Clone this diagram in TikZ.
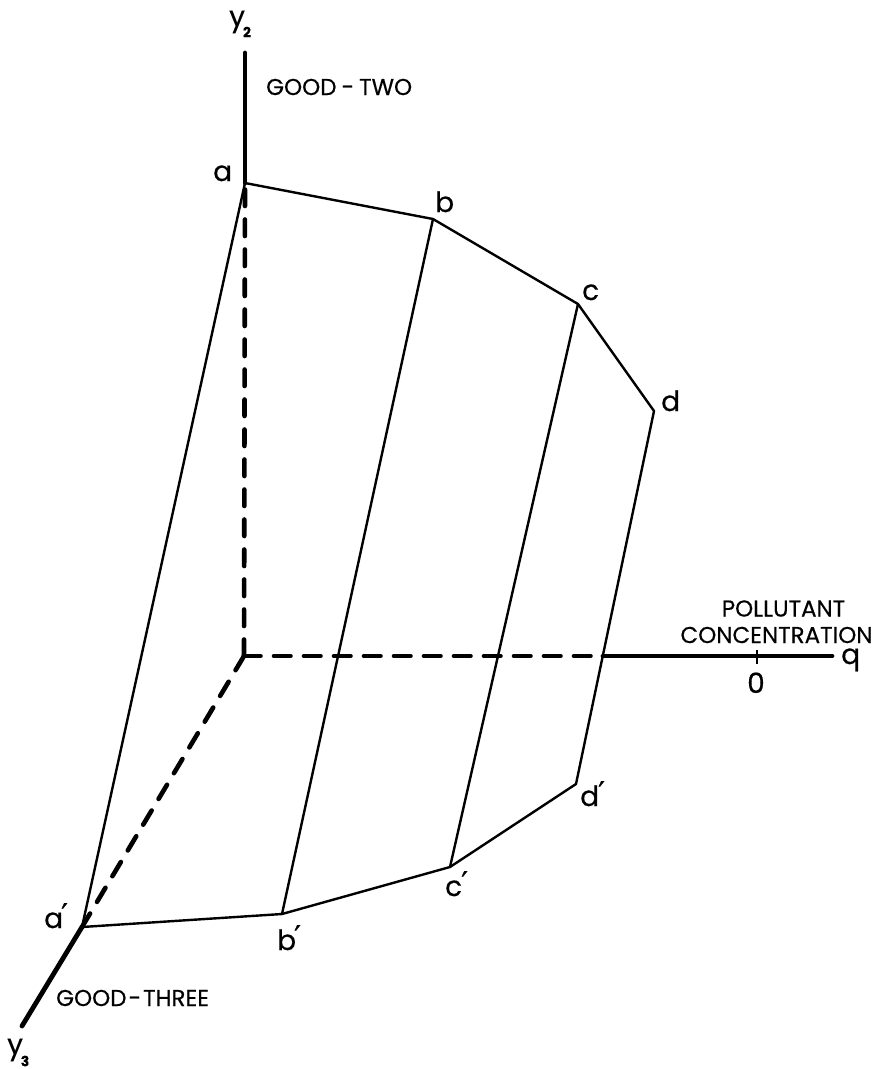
\documentclass[tikz,border=0pt]{standalone}
\usepackage{fontspec}
\setmainfont[FakeBold=0.4]{Poppins}
\newfontfamily\primefont[FakeBold=0.8]{DejaVu Sans}
\usetikzlibrary{calc}
\newcommand{\pr}[1]{\kern#1pt\raisebox{3pt}{\primefont\fontsize{30}{32}\selectfont ′}}
\tikzset{
  thinline/.style={line width=2.4pt,line cap=round,line join=round,black},
  axisline/.style={line width=4.8pt,line cap=round,black},
  dashaxis/.style={line width=4.6pt,line cap=round,dash pattern=on 16.5pt off 13.5pt,black},
  caps/.style={inner sep=0pt,font=\fontsize{23}{25}\selectfont,black},
  pt/.style={inner sep=0pt,anchor=base west,font=\fontsize{28}{30}\selectfont,black},
  sub/.style={inner sep=0pt,font=\fontsize{14}{15}\selectfont\bfseries,black}
}
\begin{document}
\begin{tikzpicture}[x=1pt,y=-1pt]
\useasboundingbox (0,0) rectangle (878,1069);
\fill[white] (0,0) rectangle (878,1069);
\coordinate (O) at (244,656);
\coordinate (A) at (245,183);
\coordinate (B) at (433,219);
\coordinate (C) at (578,304);
\coordinate (D) at (654,411);
\coordinate (Dp) at (576,784);
\coordinate (Cp) at (450,867);
\coordinate (Bp) at (282,914);
\coordinate (Ap) at (82,927);
\coordinate (Ytop) at (245,53);
\coordinate (Qend) at (832,656);
\coordinate (Qsolid) at (603,656);
\coordinate (Yend) at (22,1026);
\coordinate (Tt) at (757,650);
\coordinate (Tb) at (757,664);
% axes
\draw[axisline] (Ytop) -- (A);
\draw[dashaxis] (O) -- (A);
\draw[dashaxis] (O) -- (Qsolid);
\draw[axisline] (Qsolid) -- (Qend);
\draw[dashaxis] (O) -- (Ap);
\draw[axisline] (Ap) -- (Yend);
\draw[line width=2.2pt] (Tt) -- (Tb);
% surface
\draw[thinline] (A) -- (B) -- (C) -- (D) -- (Dp) -- (Cp) -- (Bp) -- (Ap) -- cycle;
\draw[thinline] (B) -- (Bp);
\draw[thinline] (C) -- (Cp);
% labels
\node[pt] (ly2) at (229,26) {y};
\node[sub] (ly2s) at (247,32) {2};
\node[pt] (ly3) at (7,1054) {y};
\node[sub] (ly3s) at (25,1061) {3};
\node[caps,anchor=west] (lgt) at (266,87) {GOOD\kern5pt-\kern5pt TWO};
\node[caps,anchor=west] (lg3) at (56,998) {GOOD\kern2pt-\kern2pt THREE};
\node[caps] (lp) at (783.5,608.5) {POLLUTANT};
\node[caps] (lc) at (776.5,635) {CONCENTRATION};
\node[pt] (l0) at (747,693) {0};
\node[pt] (lq) at (841,664) {q};
\node[pt] (la) at (213,181) {a};
\node[pt] (lb) at (435,212) {b};
\node[pt] (lc2) at (582,300) {c};
\node[pt] (ld) at (661,411) {d};
\node[pt] (ldp) at (580,806) {d\pr{-1}};
\node[pt] (lcp) at (445,896) {c\pr{-1}};
\node[pt] (lbp) at (277,950) {b\pr{-2}};
\node[pt] (lap) at (44,928) {a\pr{-2}};
\end{tikzpicture}
\end{document}
